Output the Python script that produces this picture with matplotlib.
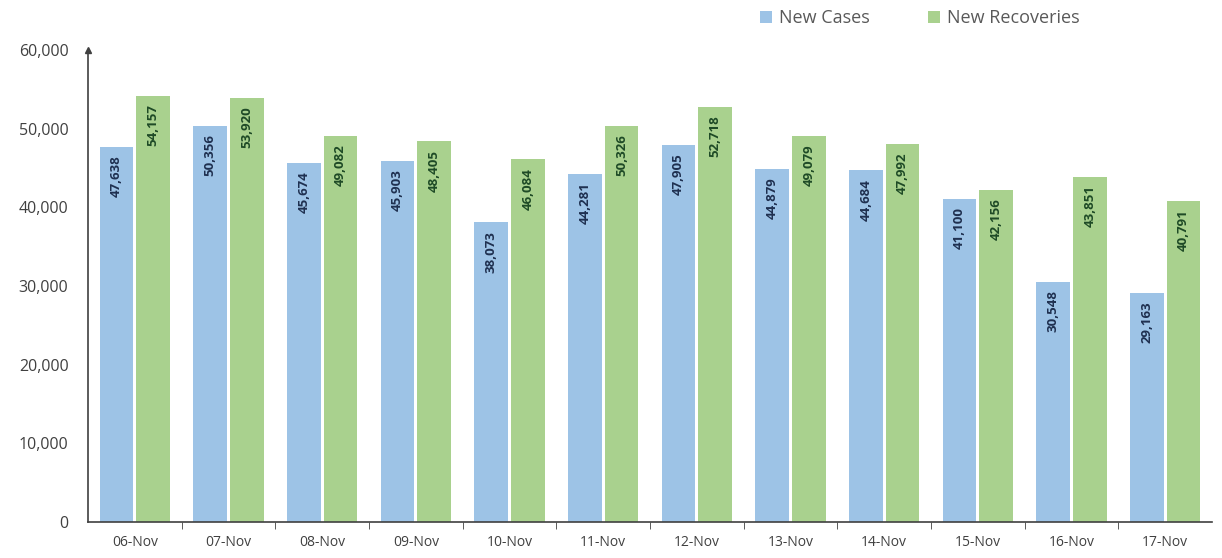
import matplotlib
matplotlib.use("Agg")
import matplotlib.pyplot as plt
import numpy as np
from matplotlib.ticker import FuncFormatter, FixedLocator

dates = ["06-Nov", "07-Nov", "08-Nov", "09-Nov", "10-Nov", "11-Nov",
         "12-Nov", "13-Nov", "14-Nov", "15-Nov", "16-Nov", "17-Nov"]
new_cases = [47638, 50356, 45674, 45903, 38073, 44281,
             47905, 44879, 44684, 41100, 30548, 29163]
new_recoveries = [54157, 53920, 49082, 48405, 46084, 50326,
                  52718, 49079, 47992, 42156, 43851, 40791]

plt.rcParams['font.family'] = ['Open Sans', 'DejaVu Sans']

fig = plt.figure(figsize=(12.22, 5.58), dpi=100)
ax = fig.add_axes([88/1222, 36/558, (1212-88)/1222, (522-50)/558])

x = np.arange(len(dates))
w = 0.36
blue = "#9DC3E6"
green = "#A9D18E"
b1 = ax.bar(x - w/2 - 0.015, new_cases, w, color=blue, label="New Cases")
b2 = ax.bar(x + w/2 + 0.015, new_recoveries, w, color=green, label="New Recoveries")

for rect, v in zip(b1, new_cases):
    ax.annotate(f"{v:,}", (rect.get_x() + rect.get_width()/2, v),
                xytext=(0, -6), textcoords="offset points",
                rotation=90, ha="center", va="top", fontsize=9.5,
                fontweight="bold", color="#1F3050")
for rect, v in zip(b2, new_recoveries):
    ax.annotate(f"{v:,}", (rect.get_x() + rect.get_width()/2, v),
                xytext=(0, -6), textcoords="offset points",
                rotation=90, ha="center", va="top", fontsize=9.5,
                fontweight="bold", color="#1E4A26")

ax.set_xlim(-0.5, len(dates) - 0.5)
ax.set_ylim(0, 60000)
ax.set_yticks(np.arange(0, 60001, 10000))
ax.yaxis.set_major_formatter(FuncFormatter(lambda v, p: f"{int(v):,}"))
ax.set_xticks(x)
ax.set_xticklabels(dates)
ax.xaxis.set_minor_locator(FixedLocator(np.arange(0.5, len(dates) - 0.5, 1)))
ax.tick_params(axis="x", which="major", length=0, pad=9, labelsize=10, colors="#404040")
ax.tick_params(axis="x", which="minor", length=5, direction="out", color="#404040")
ax.tick_params(axis="y", length=0, pad=14, labelsize=11.5, colors="#404040")

for s in ["top", "right"]:
    ax.spines[s].set_visible(False)
for s in ["left", "bottom"]:
    ax.spines[s].set_color("#404040")
    ax.spines[s].set_linewidth(1.2)
ax.plot([0], [1.0], marker="^", color="#404040", markersize=5,
        transform=ax.transAxes, clip_on=False)

leg = fig.legend(handles=[b1, b2], loc="center", bbox_to_anchor=(920/1222, 1 - 18/558),
                 ncol=2, frameon=False, fontsize=13, handlelength=0.65, handleheight=0.65,
                 columnspacing=3.2, handletextpad=0.4)
for t in leg.get_texts():
    t.set_color("#595959")

fig.savefig("out.png", dpi=100)
